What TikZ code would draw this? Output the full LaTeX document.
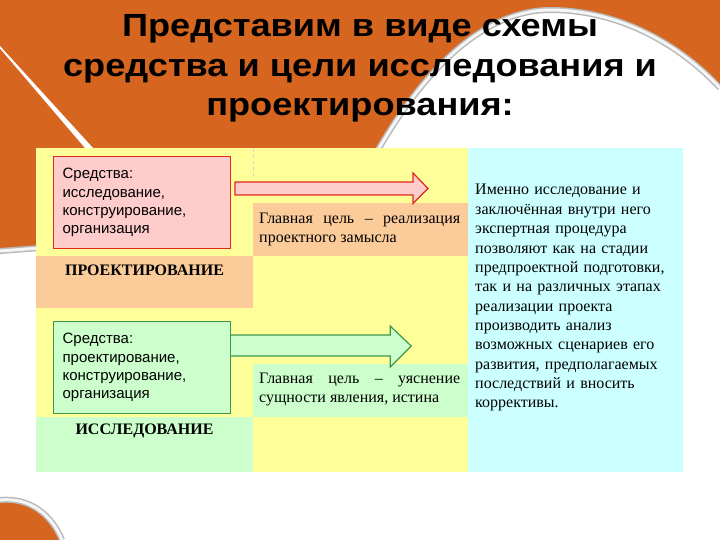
\documentclass[tikz,border=0pt]{standalone}
\usepackage{fontspec}
\setmainfont{Liberation Serif}
\setsansfont{Liberation Sans}
\newfontfamily\titlefont[FakeStretch=1.13]{Liberation Sans}
\definecolor{bgorange}{RGB}{214,101,32}
\definecolor{cyel}{RGB}{255,255,153}
\definecolor{cpeach}{RGB}{251,203,154}
\definecolor{cgreen}{RGB}{204,255,204}
\definecolor{ccyan}{RGB}{204,255,255}
\definecolor{cpink}{RGB}{255,204,204}
\definecolor{cred}{RGB}{224,40,32}
\definecolor{cgreenb}{RGB}{60,150,80}
\begin{document}
\begin{tikzpicture}[x=1pt,y=-1pt,
  cell/.style={anchor=north west,inner sep=0pt,outer sep=0pt,draw=none},
  silver/.style={draw=gray!55,line width=6pt},
  silverin/.style={draw=gray!8,line width=3pt},
  titletxt/.style={font=\titlefont\bfseries\fontsize{32}{38}\selectfont,anchor=base,inner sep=0pt},
  meansbox/.style={anchor=north west,minimum width=177pt,minimum height=92pt,inner xsep=9pt,
     text width=159pt,align=left,font=\sffamily\fontsize{15}{18.4}\selectfont,line width=1.2pt},
  cattxt/.style={font=\bfseries\fontsize{16}{18}\selectfont,inner sep=0pt},
  goaltxt/.style={anchor=base west,inner sep=0pt,text width=201pt,align=justify,
     font=\fontsize{16}{19}\selectfont},
  sidetxt/.style={anchor=base west,inner sep=0pt,text width=208pt,align=left,
     font=\fontsize{16}{19.36}\selectfont}
]
\useasboundingbox (0,0) rectangle (720,540);
\fill[white] (0,0) rectangle (720,540);
% orange background shapes
\fill[bgorange] (0,0) -- (720,0) -- (720,88)
  .. controls (680,45) and (620,10) .. (550,10)
  .. controls (490,10) and (430,60) .. (378,150)
  -- (250,200) -- (36,246) -- (0,249) -- cycle;
\draw[silver] (720,88) .. controls (680,45) and (620,10) .. (550,10)
  .. controls (490,10) and (430,60) .. (378,150);
\draw[silverin] (720,88) .. controls (680,45) and (620,10) .. (550,10)
  .. controls (490,10) and (430,60) .. (378,150);
\draw[silver] (0,251) -- (40,248);
\draw[silverin] (0,251) -- (40,248);
\fill[white] (0,46) -- (93,148) -- (85,148) -- (0,48.5) -- cycle;
\fill[bgorange] (0,500) .. controls (30,497) and (52,515) .. (62,540) -- (0,540) -- cycle;
\draw[silver] (0,500) .. controls (30,497) and (52,515) .. (62,540);
\draw[silverin] (0,500) .. controls (30,497) and (52,515) .. (62,540);
% title
\node[titletxt] (title1) at (360,36.5) {Представим в виде схемы};
\node[titletxt] (title2) at (360,76.5) {средства и цели исследования и};
\node[titletxt] (title3) at (360,115.5) {проектирования:};
% table column 1
\node[cell,fill=cyel,minimum width=217pt,minimum height=108pt] (c1a) at (36,148) {};
\node[cell,fill=cpeach,minimum width=217pt,minimum height=52pt] (c1b) at (36,256) {};
\node[cell,fill=cyel,minimum width=217pt,minimum height=109pt] (c1c) at (36,308) {};
\node[cell,fill=cgreen,minimum width=217pt,minimum height=55pt] (c1d) at (36,417) {};
% column 2
\node[cell,fill=cyel,minimum width=215pt,minimum height=55pt] (c2a) at (253,148) {};
\node[cell,fill=cpeach,minimum width=215pt,minimum height=53pt] (c2b) at (253,203) {};
\node[cell,fill=cyel,minimum width=215pt,minimum height=108pt] (c2c) at (253,256) {};
\node[cell,fill=cgreen,minimum width=215pt,minimum height=53pt] (c2d) at (253,364) {};
\node[cell,fill=cyel,minimum width=215pt,minimum height=55pt] (c2e) at (253,417) {};
% column 3
\node[cell,fill=ccyan,minimum width=215pt,minimum height=324pt] (c3) at (468,148) {};
\draw[gray!35,dashed,line width=0.6pt] (253,149) -- (253,176);
% means boxes
\node[meansbox,draw=cred,fill=cpink] (mproj) at (53,156)
  {Средства:\\исследование,\\конструирование,\\организация};
\node[meansbox,draw=cgreenb,fill=cgreen] (mres) at (53,321)
  {Средства:\\проектирование,\\конструирование,\\организация};
% category labels
\node[cattxt] (lproj) at (144.5,270) {ПРОЕКТИРОВАНИЕ};
\node[cattxt] (lres) at (144.5,431) {ИССЛЕДОВАНИЕ};
% block arrows
\coordinate (ra) at (235,188.5);
\draw[cred,fill=cpink,line width=1.2pt,line join=miter] (ra) ++(0,-6.5) -- ++(178,0) -- ++(0,-9)
  -- ++(15,15.5) -- ++(-15,15) -- ++(0,-8.5) -- ++(-178,0) -- cycle;
\coordinate (ga) at (mres.east |- 0,345.5);
\draw[cgreenb,fill=cgreen,line width=1.2pt,line join=miter] (ga) ++(0,-10.5) -- ++(159,0) -- ++(0,-9)
  -- ++(21,20) -- ++(-21,21) -- ++(0,-11) -- ++(-159,0);
% goals
\node[goaltxt] (gproj) at (259,223) {Главная цель – реализация проектного замысла};
\node[goaltxt] (gres) at (259,383) {Главная цель – уяснение сущности явления, истина};
% side text
\node[sidetxt] (side) at (475,195) {Именно исследование и\\заключённая внутри него\\экспертная процедура\\позволяют как на стадии\\предпроектной подготовки,\\так и на различных этапах\\реализации проекта\\производить анализ\\возможных сценариев его\\развития, предполагаемых\\последствий и вносить\\коррективы.};
\end{tikzpicture}
\end{document}
